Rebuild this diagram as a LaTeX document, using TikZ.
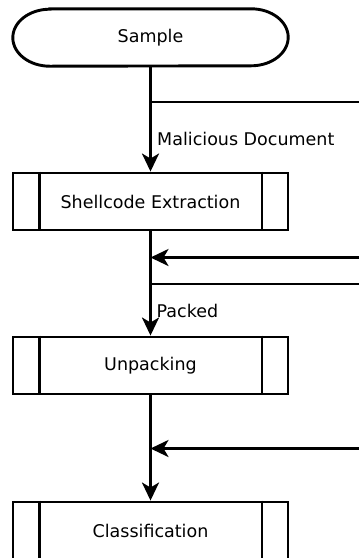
\documentclass[tikz,border=0pt]{standalone}
\usepackage{fontspec}
\setmainfont{DejaVu Sans}
\usetikzlibrary{arrows.meta}
\tikzset{
  txt/.style={font=\fontsize{17.5}{21}\selectfont},
  proc/.style={txt, draw, line width=2.9pt, minimum width=275pt, minimum height=57pt, inner sep=0pt},
  term/.style={txt, minimum width=275pt, minimum height=57pt, inner sep=0pt},
  flow/.style={line width=2.8pt, -{Stealth[length=18pt,width=17pt,inset=5pt]}},
  plain/.style={line width=2.8pt},
  lbl/.style={txt, anchor=west, inner sep=0pt}
}
\begin{document}
\begin{tikzpicture}[x=1pt,y=-1pt]
\useasboundingbox (0,0) rectangle (359,558);
%boxes
\node[term] (sample) at (150.5,37.5) {Sample};
\node[proc] (shell) at (150.5,201.5) {Shellcode Extraction};
\node[proc] (unpack) at (150.5,365.5) {Unpacking};
\node[proc] (classif) at (150.5,530.5) {Classification};
%terminal outline
\draw[line width=2.9pt] ([xshift=37pt]sample.north west) -- ([xshift=-37pt]sample.north east)
  arc[start angle=90,end angle=-90,x radius=37pt,y radius=28.5pt]
  -- ([xshift=37pt]sample.south west)
  arc[start angle=270,end angle=90,x radius=37pt,y radius=28.5pt] -- cycle;
%side bars
\foreach \b in {shell,unpack,classif}{
  \draw[line width=2.9pt] ([xshift=27.5pt]\b.north west) -- ([xshift=27.5pt]\b.south west);
  \draw[line width=2.9pt] ([xshift=-27.5pt]\b.north east) -- ([xshift=-27.5pt]\b.south east);
}
%branch points
\coordinate (b1) at (150.5,102);
\coordinate (e1) at (359,102);
\coordinate (b2) at (150.5,257.5);
\coordinate (e2) at (359,257.5);
\coordinate (b3) at (150.5,284);
\coordinate (e3) at (359,284);
\coordinate (b4) at (150.5,448.5);
\coordinate (e4) at (359,448.5);
%connectors
\draw[flow] (sample.south) -- (shell.north);
\draw[flow] (shell.south) -- (unpack.north);
\draw[flow] (unpack.south) -- (classif.north);
\draw[plain] (b1) -- (e1);
\draw[flow] (e2) -- (b2);
\draw[plain] (b3) -- (e3);
\draw[flow] (e4) -- (b4);
%labels
\node[lbl] (mal) at (157,138.5) {Malicious Document};
\node[lbl] (packed) at (156.5,310.5) {Packed};
\end{tikzpicture}
\end{document}
